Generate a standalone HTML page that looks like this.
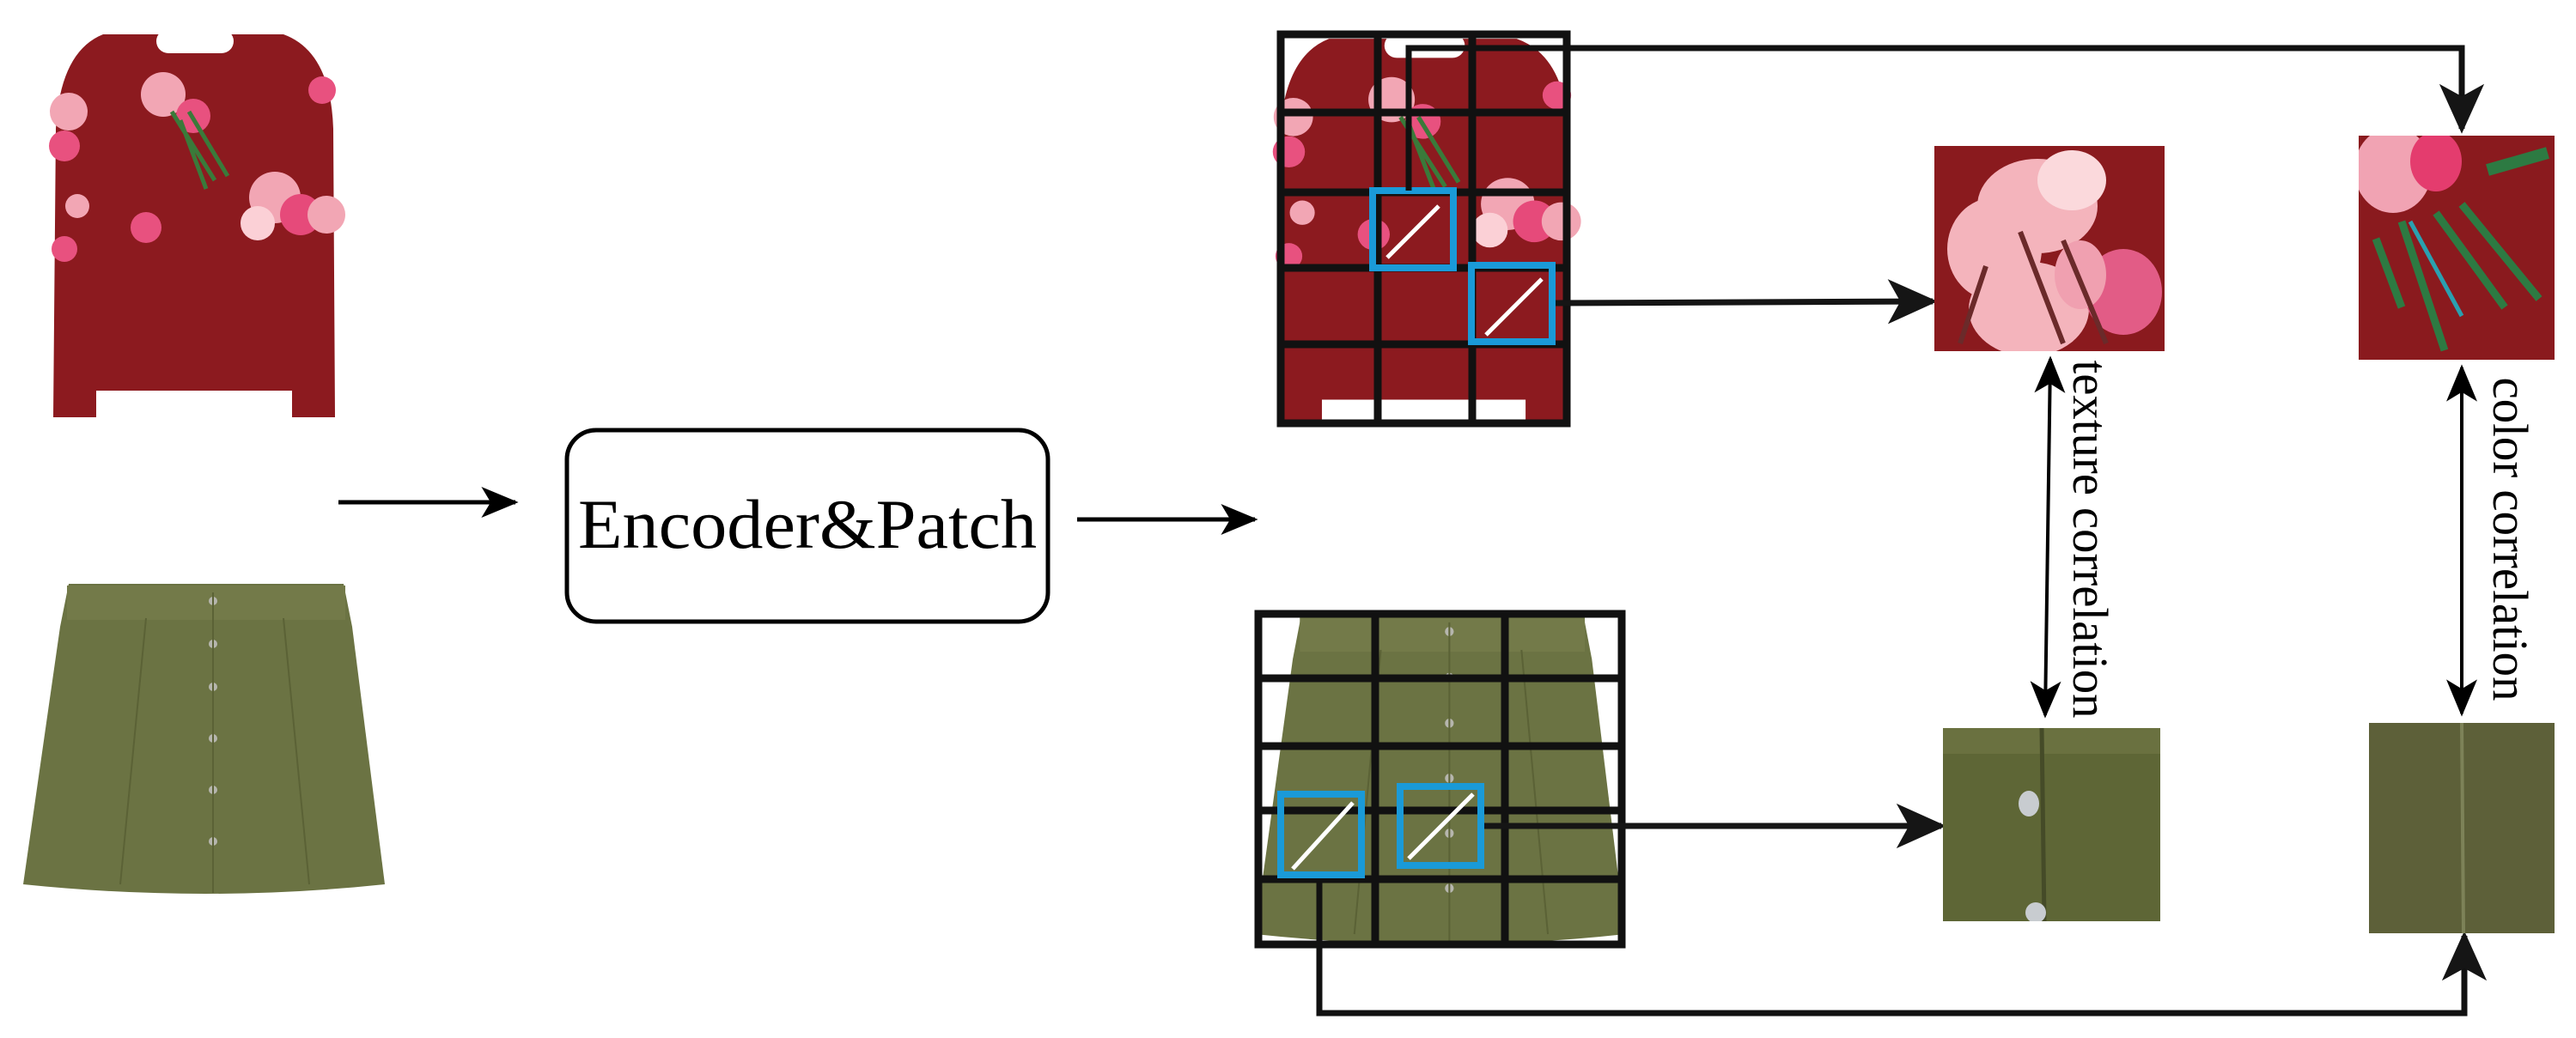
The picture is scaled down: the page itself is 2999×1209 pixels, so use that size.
<!DOCTYPE html>
<html><head><meta charset="utf-8"><style>
html,body{margin:0;padding:0;background:#fff}
svg{display:block}
text{font-family:"Liberation Serif",serif}
</style></head><body>
<svg width="2999" height="1209" viewBox="0 0 2999 1209" xmlns="http://www.w3.org/2000/svg">
<defs>
<marker id="ah" viewBox="0 0 24 20" refX="22" refY="10" markerWidth="44" markerHeight="36" markerUnits="userSpaceOnUse" orient="auto-start-reverse"><path d="M0,0 L24,10 L0,20 L6,10Z" fill="#000"/></marker>
<marker id="ahb" viewBox="0 0 20 20" refX="18" refY="10" markerWidth="58" markerHeight="58" markerUnits="userSpaceOnUse" orient="auto-start-reverse"><path d="M0,1 L20,10 L0,19 L5,10Z" fill="#151515"/></marker>
<g id="sweater">
<path d="M120,40 L330,40 Q385,60 388,150 L390,486 L340,486 L340,455 L112,455 L112,486 L62,486 L65,150 Q70,60 120,40Z" fill="#8c1a1f"/>
<rect x="182" y="34" width="90" height="28" rx="14" fill="#fff"/>
<g fill="#f2a6b4">
<circle cx="190" cy="110" r="26"/><circle cx="225" cy="135" r="20" fill="#e8517f"/>
<circle cx="320" cy="230" r="30"/><circle cx="350" cy="250" r="24" fill="#e64a7a"/>
<circle cx="300" cy="260" r="20" fill="#fbd0d6"/>
<circle cx="80" cy="130" r="22"/><circle cx="75" cy="170" r="18" fill="#e8517f"/>
<circle cx="375" cy="105" r="16" fill="#e8517f"/><circle cx="380" cy="250" r="22"/>
<circle cx="170" cy="265" r="18" fill="#e8517f"/><circle cx="90" cy="240" r="14"/>
<circle cx="75" cy="290" r="15" fill="#e8517f"/>
</g>
<g stroke="#3a7a3a" stroke-width="5"><path d="M200,130 L250,210 M210,140 L240,220 M220,130 L265,205"/></g>
</g>
<g id="skirt">
<path d="M80,680 L400,680 L410,730 L448,1030 Q240,1052 27,1030 L70,730Z" fill="#6b7343"/>
<rect x="78" y="682" width="324" height="40" fill="#737a49"/>
<g fill="#b6b6ae"><circle cx="248" cy="700" r="5"/><circle cx="248" cy="750" r="5"/><circle cx="248" cy="800" r="5"/><circle cx="248" cy="860" r="5"/><circle cx="248" cy="920" r="5"/><circle cx="248" cy="980" r="5"/></g>
<path d="M170,720 L140,1030 M330,720 L360,1030 M248,690 L248,1040" stroke="#5b6236" stroke-width="2"/>
</g>
</defs>

<use href="#sweater"/>
<use href="#skirt"/>

<line x1="394" y1="585" x2="600" y2="585" stroke="#000" stroke-width="5" marker-end="url(#ah)"/>
<rect x="660" y="501" width="560" height="223" rx="34" fill="none" stroke="#000" stroke-width="5"/>
<text x="940" y="638" font-size="82" text-anchor="middle" textLength="534" lengthAdjust="spacingAndGlyphs">Encoder&amp;Patch</text>
<line x1="1254" y1="605" x2="1461" y2="605" stroke="#000" stroke-width="5" marker-end="url(#ah)"/>

<!-- top grid -->
<g transform="translate(1422.5,4.6) scale(1.04,1.013)"><use href="#sweater"/></g>
<g stroke="#111" stroke-width="9" fill="none">
<rect x="1491" y="40" width="333" height="453"/>
<line x1="1604" y1="36" x2="1604" y2="497"/><line x1="1714" y1="36" x2="1714" y2="497"/>
<line x1="1487" y1="131" x2="1828" y2="131"/><line x1="1487" y1="224" x2="1828" y2="224"/>
<line x1="1487" y1="312" x2="1828" y2="312"/><line x1="1487" y1="401" x2="1828" y2="401"/>
</g>
<g stroke="#1a9ad8" stroke-width="8" fill="none">
<rect x="1598" y="222" width="94" height="90"/><rect x="1713" y="309" width="94" height="89"/>
</g>
<g stroke="#fff" stroke-width="5"><line x1="1615" y1="300" x2="1675" y2="240"/><line x1="1730" y1="390" x2="1795" y2="325"/></g>
<polyline points="1640,222 1640,56 2866,56 2866,150" fill="none" stroke="#111" stroke-width="7" marker-end="url(#ahb)"/>
<line x1="1811" y1="353" x2="2250" y2="351" stroke="#151515" stroke-width="7" marker-end="url(#ahb)"/>

<!-- bottom grid -->
<g transform="translate(1433.4,-12) scale(1.024,1.068)"><use href="#skirt"/></g>
<g stroke="#111" stroke-width="9" fill="none">
<rect x="1465" y="715" width="423" height="385"/>
<line x1="1601" y1="711" x2="1601" y2="1104"/><line x1="1752" y1="711" x2="1752" y2="1104"/>
<line x1="1461" y1="790" x2="1892" y2="790"/><line x1="1461" y1="869" x2="1892" y2="869"/>
<line x1="1461" y1="944" x2="1892" y2="944"/><line x1="1461" y1="1024" x2="1892" y2="1024"/>
</g>
<g stroke="#1a9ad8" stroke-width="8" fill="none">
<rect x="1491" y="925" width="94" height="94"/><rect x="1630" y="916" width="94" height="92"/>
</g>
<g stroke="#fff" stroke-width="5"><line x1="1505" y1="1012" x2="1575" y2="935"/><line x1="1640" y1="1000" x2="1715" y2="925"/></g>
<line x1="1728" y1="962" x2="2260" y2="962" stroke="#151515" stroke-width="7" marker-end="url(#ahb)"/>
<polyline points="1536,1023 1536,1180 2869,1180 2869,1090" fill="none" stroke="#111" stroke-width="7" marker-end="url(#ahb)"/>

<!-- texture top patch -->
<svg x="2252" y="170" width="268" height="239" viewBox="0 0 268 239">
<rect width="268" height="239" fill="#8a1a1e"/>
<g fill="#f4b4bc"><ellipse cx="120" cy="70" rx="70" ry="55"/><ellipse cx="70" cy="120" rx="55" ry="60"/><ellipse cx="110" cy="190" rx="70" ry="55"/><ellipse cx="160" cy="40" rx="40" ry="35" fill="#fbd9dc"/></g>
<g fill="#e25c86"><ellipse cx="220" cy="170" rx="45" ry="50"/><ellipse cx="170" cy="150" rx="30" ry="40" fill="#f0a0b0"/></g>
<path d="M100,100 L150,230 M150,110 L200,230 M60,140 L30,230" stroke="#6b2a2a" stroke-width="6"/>
</svg>
<!-- color top patch -->
<svg x="2746" y="158" width="228" height="261" viewBox="0 0 228 261">
<rect width="228" height="261" fill="#8a1a1e"/>
<ellipse cx="40" cy="40" rx="45" ry="50" fill="#f1a3b3"/><ellipse cx="90" cy="30" rx="30" ry="35" fill="#e43c6e"/>
<path d="M20,120 L50,200 M50,100 L100,250 M90,90 L170,200 M120,80 L210,190" stroke="#2d7a42" stroke-width="9" fill="none"/>
<path d="M60,100 L120,210" stroke="#2aa0b0" stroke-width="5"/>
<path d="M150,40 L220,20" stroke="#2d7a42" stroke-width="14"/>
</svg>
<!-- bottom patches -->
<svg x="2262" y="848" width="253" height="225" viewBox="0 0 253 225">
<rect width="253" height="225" fill="#5e6636"/>
<rect width="253" height="30" fill="#6a7140"/>
<line x1="115" y1="0" x2="118" y2="225" stroke="#454b28" stroke-width="5"/>
<ellipse cx="100" cy="88" rx="12" ry="15" fill="#c8ccd0"/><ellipse cx="108" cy="215" rx="12" ry="12" fill="#c8ccd0"/>
</svg>
<svg x="2758" y="842" width="216" height="245" viewBox="0 0 216 245">
<rect width="216" height="245" fill="#5d6039"/>
<line x1="108" y1="0" x2="110" y2="245" stroke="#7d8258" stroke-width="4"/>
</svg>

<!-- correlation arrows -->
<line x1="2387" y1="418" x2="2381" y2="833" stroke="#000" stroke-width="4" marker-start="url(#ah)" marker-end="url(#ah)"/>
<text transform="translate(2414,628) rotate(90)" font-size="58" text-anchor="middle" textLength="417" lengthAdjust="spacingAndGlyphs">texture correlation</text>
<line x1="2866" y1="428" x2="2866" y2="831" stroke="#000" stroke-width="4" marker-start="url(#ah)" marker-end="url(#ah)"/>
<text transform="translate(2903,628) rotate(90)" font-size="58" text-anchor="middle" textLength="377" lengthAdjust="spacingAndGlyphs">color correlation</text>
</svg>
</body></html>
